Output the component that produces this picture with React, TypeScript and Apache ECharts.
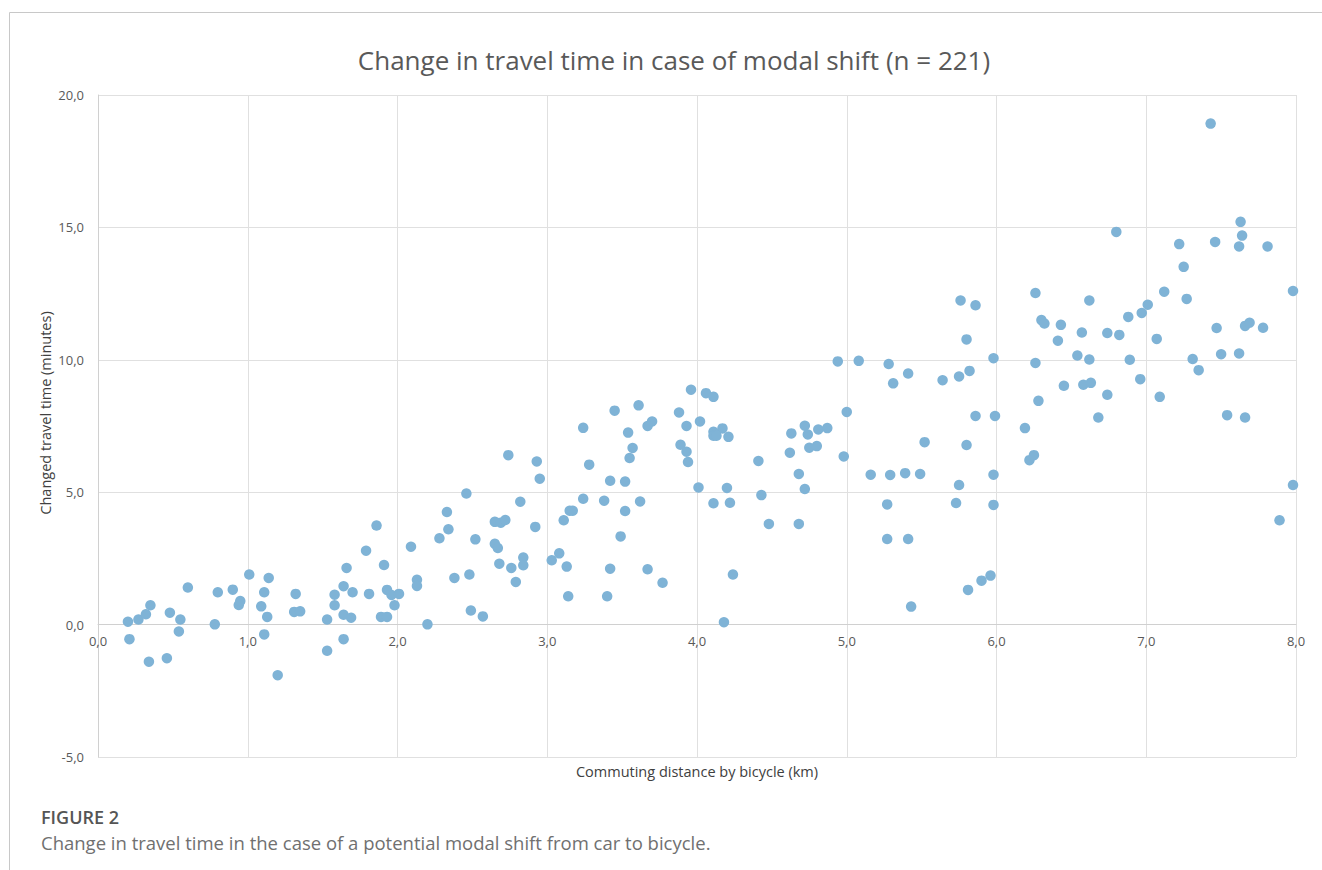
import React, { useEffect, useRef } from "react";
import * as echarts from "echarts";

const TITLE = "Change in travel time in case of modal shift (n = 221)";
const X_NAME = "Commuting distance by bicycle (km)";
const Y_NAME = "Changed travel time (minutes)";
const CAPTION_HEAD = "FIGURE 2";
const CAPTION_TEXT = "Change in travel time in the case of a potential modal shift from car to bicycle.";

const X_TICKS = [0, 1, 2, 3, 4, 5, 6, 7, 8];
const Y_TICKS = [-5, 0, 5, 10, 15, 20];

// commuting distance by bicycle (km)
const distanceKm = [
  0.20, 0.21, 0.27, 0.32, 0.35, 0.34, 0.46, 0.48, 0.55, 0.54, 0.60, 0.78, 0.80, 0.90, 0.94, 0.95,
  1.01, 1.11, 1.09, 1.13, 1.14, 1.11, 1.20, 1.32, 1.31, 1.35, 1.53, 1.53, 1.58, 1.58, 1.64, 1.66,
  1.64, 1.69, 1.64, 1.70, 1.79, 1.81, 1.86, 1.91, 1.93, 1.89, 1.93, 1.96, 1.98, 2.01, 2.09, 2.13,
  2.13, 2.20, 2.28, 2.33, 2.34, 2.46, 2.38, 2.48, 2.49, 2.52, 2.57, 2.65, 2.69, 2.72, 2.65, 2.67,
  2.68, 2.74,
  4.94, 5.08, 5.28, 5.41, 5.31, 3.96, 4.06, 4.11, 3.61, 3.45, 3.88, 5.00, 4.02, 3.70, 3.67, 3.24,
  3.93, 4.17, 4.11, 4.11, 4.13, 4.21, 3.54, 4.72, 4.63, 4.74, 4.81, 4.87, 4.75, 4.80, 4.62, 4.98,
  3.57, 3.55, 3.89, 3.93, 3.94, 2.93, 2.95, 3.28, 3.42, 3.52, 4.01, 4.20, 4.41, 4.68, 4.43, 4.72,
  5.16, 5.29, 5.39, 4.11, 4.22, 4.48, 4.68, 5.27, 5.27, 5.41, 5.43, 4.18, 4.24, 2.82, 2.92, 2.76,
  2.84, 2.84, 2.79, 3.03, 3.08, 3.13, 3.14, 3.11, 3.15, 3.17, 3.24, 3.38, 3.52, 3.62, 3.49, 3.42,
  3.67, 3.77, 3.40,
  7.43, 6.80, 7.63, 7.64, 7.22, 7.46, 7.62, 7.81, 7.25, 6.26, 6.62, 7.12, 7.27, 7.98, 5.76, 5.86,
  5.80, 5.98, 6.30, 6.32, 6.43, 6.41, 6.57, 6.74, 6.82, 6.88, 6.97, 7.01, 7.07, 7.47, 7.66, 7.69,
  7.78, 6.54, 6.62, 6.89, 7.31, 7.35, 7.50, 7.62, 6.26, 5.64, 5.75, 5.82, 6.96,
  5.86, 5.99, 5.52, 5.80, 6.19, 6.28, 6.45, 6.58, 6.63, 6.74, 6.68, 7.09, 7.54, 7.66, 6.22, 6.25,
  5.49, 5.75, 5.98, 5.73, 5.98, 5.81, 5.90, 5.96, 7.98, 7.89,
];

// change in travel time (minutes)
const timeChangeMin = [
  0.11, -0.55, 0.19, 0.39, 0.73, -1.40, -1.27, 0.45, 0.19, -0.26, 1.40, 0.01, 1.22, 1.32, 0.74, 0.89,
  1.89, 1.22, 0.69, 0.29, 1.76, -0.37, -1.91, 1.16, 0.48, 0.50, 0.19, -0.99, 1.13, 0.73, 1.45, 2.14,
  0.37, 0.26, -0.55, 1.22, 2.79, 1.16, 3.74, 2.25, 1.31, 0.29, 0.29, 1.12, 0.73, 1.16, 2.94, 1.69,
  1.46, 0.01, 3.26, 4.25, 3.60, 4.95, 1.76, 1.89, 0.53, 3.22, 0.31, 3.88, 3.85, 3.95, 3.05, 2.89,
  2.30, 6.40,
  9.94, 9.96, 9.84, 9.48, 9.11, 8.87, 8.74, 8.60, 8.28, 8.08, 8.01, 8.03, 7.67, 7.67, 7.50, 7.43,
  7.50, 7.41, 7.28, 7.13, 7.13, 7.09, 7.25, 7.51, 7.22, 7.18, 7.37, 7.42, 6.68, 6.74, 6.49, 6.35,
  6.67, 6.29, 6.79, 6.53, 6.14, 6.16, 5.51, 6.04, 5.43, 5.40, 5.18, 5.16, 6.18, 5.69, 4.89, 5.12,
  5.66, 5.65, 5.72, 4.58, 4.60, 3.80, 3.80, 4.54, 3.23, 3.23, 0.68, 0.09, 1.89, 4.64, 3.69, 2.14,
  2.53, 2.24, 1.61, 2.43, 2.69, 2.19, 1.07, 3.94, 4.30, 4.30, 4.75, 4.68, 4.29, 4.65, 3.33, 2.11,
  2.09, 1.58, 1.07,
  18.92, 14.83, 15.21, 14.69, 14.37, 14.45, 14.28, 14.28, 13.51, 12.52, 12.24, 12.57, 12.30, 12.60, 12.24, 12.06,
  10.77, 10.06, 11.50, 11.37, 11.32, 10.72, 11.03, 11.01, 10.94, 11.62, 11.77, 12.08, 10.79, 11.20, 11.28, 11.40,
  11.21, 10.16, 10.01, 10.00, 10.03, 9.61, 10.21, 10.24, 9.88, 9.23, 9.37, 9.58, 9.27,
  7.88, 7.88, 6.89, 6.78, 7.42, 8.45, 9.02, 9.06, 9.13, 8.68, 7.82, 8.60, 7.91, 7.82, 6.21, 6.40,
  5.69, 5.27, 5.66, 4.59, 4.52, 1.31, 1.66, 1.85, 5.27, 3.94,
];

const FONT = "'Open Sans', 'Noto Sans', sans-serif";
const fmt = (v: number) => v.toFixed(1).replace(".", ",");

const W = 1322;
const H = 870;
const GRID = { left: 98, right: 26, top: 95, bottom: 113 };

export default function App() {
  const ref = useRef<HTMLDivElement>(null);

  useEffect(() => {
    if (!ref.current) return;
    const chart = echarts.init(ref.current, undefined, { renderer: "svg" });
    const points = distanceKm.map((d, i) => [d, timeChangeMin[i]]);
    const yMin = Y_TICKS[0];
    const yMax = Y_TICKS[Y_TICKS.length - 1];
    const gridH = H - GRID.top - GRID.bottom;
    // move the x axis up so that it sits on y = 0, like the original
    const xAxisOffset = -(gridH * (0 - yMin)) / (yMax - yMin);
    const plotMidX = GRID.left + (W - GRID.left - GRID.right) / 2;

    chart.setOption({
      animation: false,
      backgroundColor: "#ffffff",
      title: {
        text: TITLE,
        left: 669,
        textAlign: "center",
        top: 42,
        textStyle: { fontFamily: FONT, fontSize: 26, fontWeight: "normal", color: "#595959" },
      },
      grid: { ...GRID, containLabel: false, outerBoundsMode: "none" },
      xAxis: {
        type: "value",
        min: X_TICKS[0],
        max: X_TICKS[X_TICKS.length - 1],
        interval: 1,
        offset: xAxisOffset,
        axisLine: { show: true, onZero: false, lineStyle: { color: "#d0d0d0", width: 1 } },
        axisTick: { show: false },
        axisLabel: { formatter: fmt, fontFamily: FONT, fontSize: 13, color: "#595959", margin: 10 },
        splitLine: { show: true, lineStyle: { color: "#e0e0e0", width: 1 } },
      },
      yAxis: {
        type: "value",
        min: yMin,
        max: yMax,
        interval: 5,
        axisLine: { show: true, onZero: false, lineStyle: { color: "#d0d0d0", width: 1 } },
        axisTick: { show: false },
        axisLabel: { formatter: fmt, fontFamily: FONT, fontSize: 13, color: "#595959", margin: 14 },
        splitLine: { show: true, lineStyle: { color: "#e0e0e0", width: 1 } },
      },
      series: [
        {
          type: "scatter",
          data: points,
          symbol: "circle",
          symbolSize: 10.5,
          itemStyle: { color: "#7fb3d6", opacity: 1 },
        },
      ],
      graphic: [
        { type: "line", shape: { x1: 9.5, y1: 12.5, x2: W, y2: 12.5 }, style: { stroke: "#c8c8c8", lineWidth: 1 } },
        { type: "line", shape: { x1: 9.5, y1: 12.5, x2: 9.5, y2: H }, style: { stroke: "#c8c8c8", lineWidth: 1 } },
        {
          type: "text",
          x: plotMidX,
          y: 771,
          style: {
            text: X_NAME, fontFamily: FONT, fontSize: 14.5, fill: "#404040",
            align: "center", verticalAlign: "middle",
          },
        },
        {
          type: "text",
          x: 45,
          y: 413,
          rotation: Math.PI / 2,
          style: {
            text: Y_NAME, fontFamily: FONT, fontSize: 14.5, fill: "#404040",
            align: "center", verticalAlign: "middle",
          },
        },
        {
          type: "text",
          x: 41,
          y: 817,
          style: {
            text: CAPTION_HEAD, fontFamily: FONT, fontSize: 18, fontWeight: 600, fill: "#555555",
            verticalAlign: "middle",
          },
        },
        {
          type: "text",
          x: 41,
          y: 842,
          style: {
            text: CAPTION_TEXT, fontFamily: FONT, fontSize: 18.5, fill: "#707070",
            verticalAlign: "middle",
          },
        },
      ],
    });
    return () => chart.dispose();
  }, []);

  return (
    <div
      ref={ref}
      style={{ position: "fixed", left: 0, top: 0, width: W, height: H, background: "#fff" }}
    />
  );
}
